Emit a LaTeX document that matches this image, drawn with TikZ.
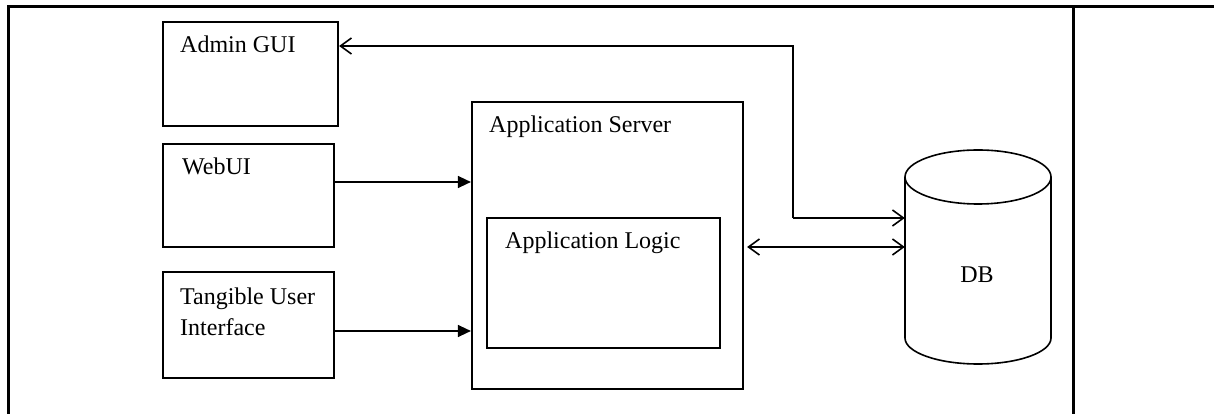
\documentclass[tikz,border=0pt]{standalone}
\usepackage{fontspec}
\setmainfont{Liberation Serif}
\usetikzlibrary{arrows.meta,calc}
\begin{document}
\begin{tikzpicture}[x=1pt,y=1pt,
  box/.style={draw=black, line width=2.2pt, inner sep=0pt},
  lbl/.style={anchor=base west, inner sep=0pt, font=\fontsize{24}{31}\selectfont},
  conn/.style={line width=1.4pt},
  filltip/.style={conn, -{Triangle[length=13pt,width=12pt]}},
  opentip/.style={conn, -{Straight Barb[length=11pt,width=16pt,line width=1.6pt]}},
  frame/.style={line width=3pt}]
\useasboundingbox (0,0) rectangle (1214,414);
% outer table frame
\coordinate (ftl) at (8,407.5);
\coordinate (ftr) at (1214,407.5);
\coordinate (fbl) at (8,0);
\coordinate (fmid) at (1073,407.5);
\coordinate (fmidb) at (1073,0);
\draw[frame] (fbl) -- (ftl) -- (ftr);
\draw[frame] (fmid) -- (fmidb);
% boxes
\node[box, minimum width=175pt, minimum height=104pt] (admin) at (250.5,340) {};
\node[box, minimum width=171pt, minimum height=103pt] (web) at (248.5,218.5) {};
\node[box, minimum width=171pt, minimum height=106pt] (tui) at (248.5,89) {};
\node[box, minimum width=271pt, minimum height=287pt] (srv) at (607.5,168.5) {};
\node[box, minimum width=233pt, minimum height=130pt] (logic) at (603.5,131) {};
% labels
\node[lbl] (adminlbl) at (180,361) {Admin GUI};
\node[lbl] (weblbl) at (182,239) {WebUI};
\node[lbl] (tuilbl1) at (180,109) {Tangible User};
\node[lbl] (tuilbl2) at (180,78) {Interface};
\node[lbl] (srvlbl) at (489,281) {Application Server};
\node[lbl] (logiclbl) at (505,165) {Application Logic};
% database cylinder
\node[minimum width=146pt, minimum height=214pt, inner sep=0pt] (db) at (978,157) {};
\draw[line width=1.6pt] (905,237) -- (905,76) arc [start angle=180, end angle=360, x radius=73pt, y radius=26pt] -- (1051,237);
\draw[line width=1.6pt] (978,237) ellipse [x radius=73pt, y radius=27pt];
\node[anchor=base, inner sep=0pt, font=\fontsize{24}{31}\selectfont] (dblbl) at (977,131) {DB};
% connectors
\draw[filltip] ([yshift=13.5pt]web.east) -- ([yshift=13.5pt]web.east -| srv.west);
\draw[filltip] ([yshift=-6pt]tui.east) -- ([yshift=-6pt]tui.east -| srv.west);
\coordinate (jn) at (793,196);
\draw[opentip] (jn) |- ([yshift=28pt]admin.east);
\draw[opentip] (jn) -- (jn -| db.west);
\draw[conn, {Straight Barb[length=11pt,width=16pt,line width=1.6pt]}-{Straight Barb[length=11pt,width=16pt,line width=1.6pt]}]
  ([xshift=3pt,yshift=-1.5pt]srv.east) -- ([yshift=-1.5pt]srv.east -| db.west);
\end{tikzpicture}
\end{document}
